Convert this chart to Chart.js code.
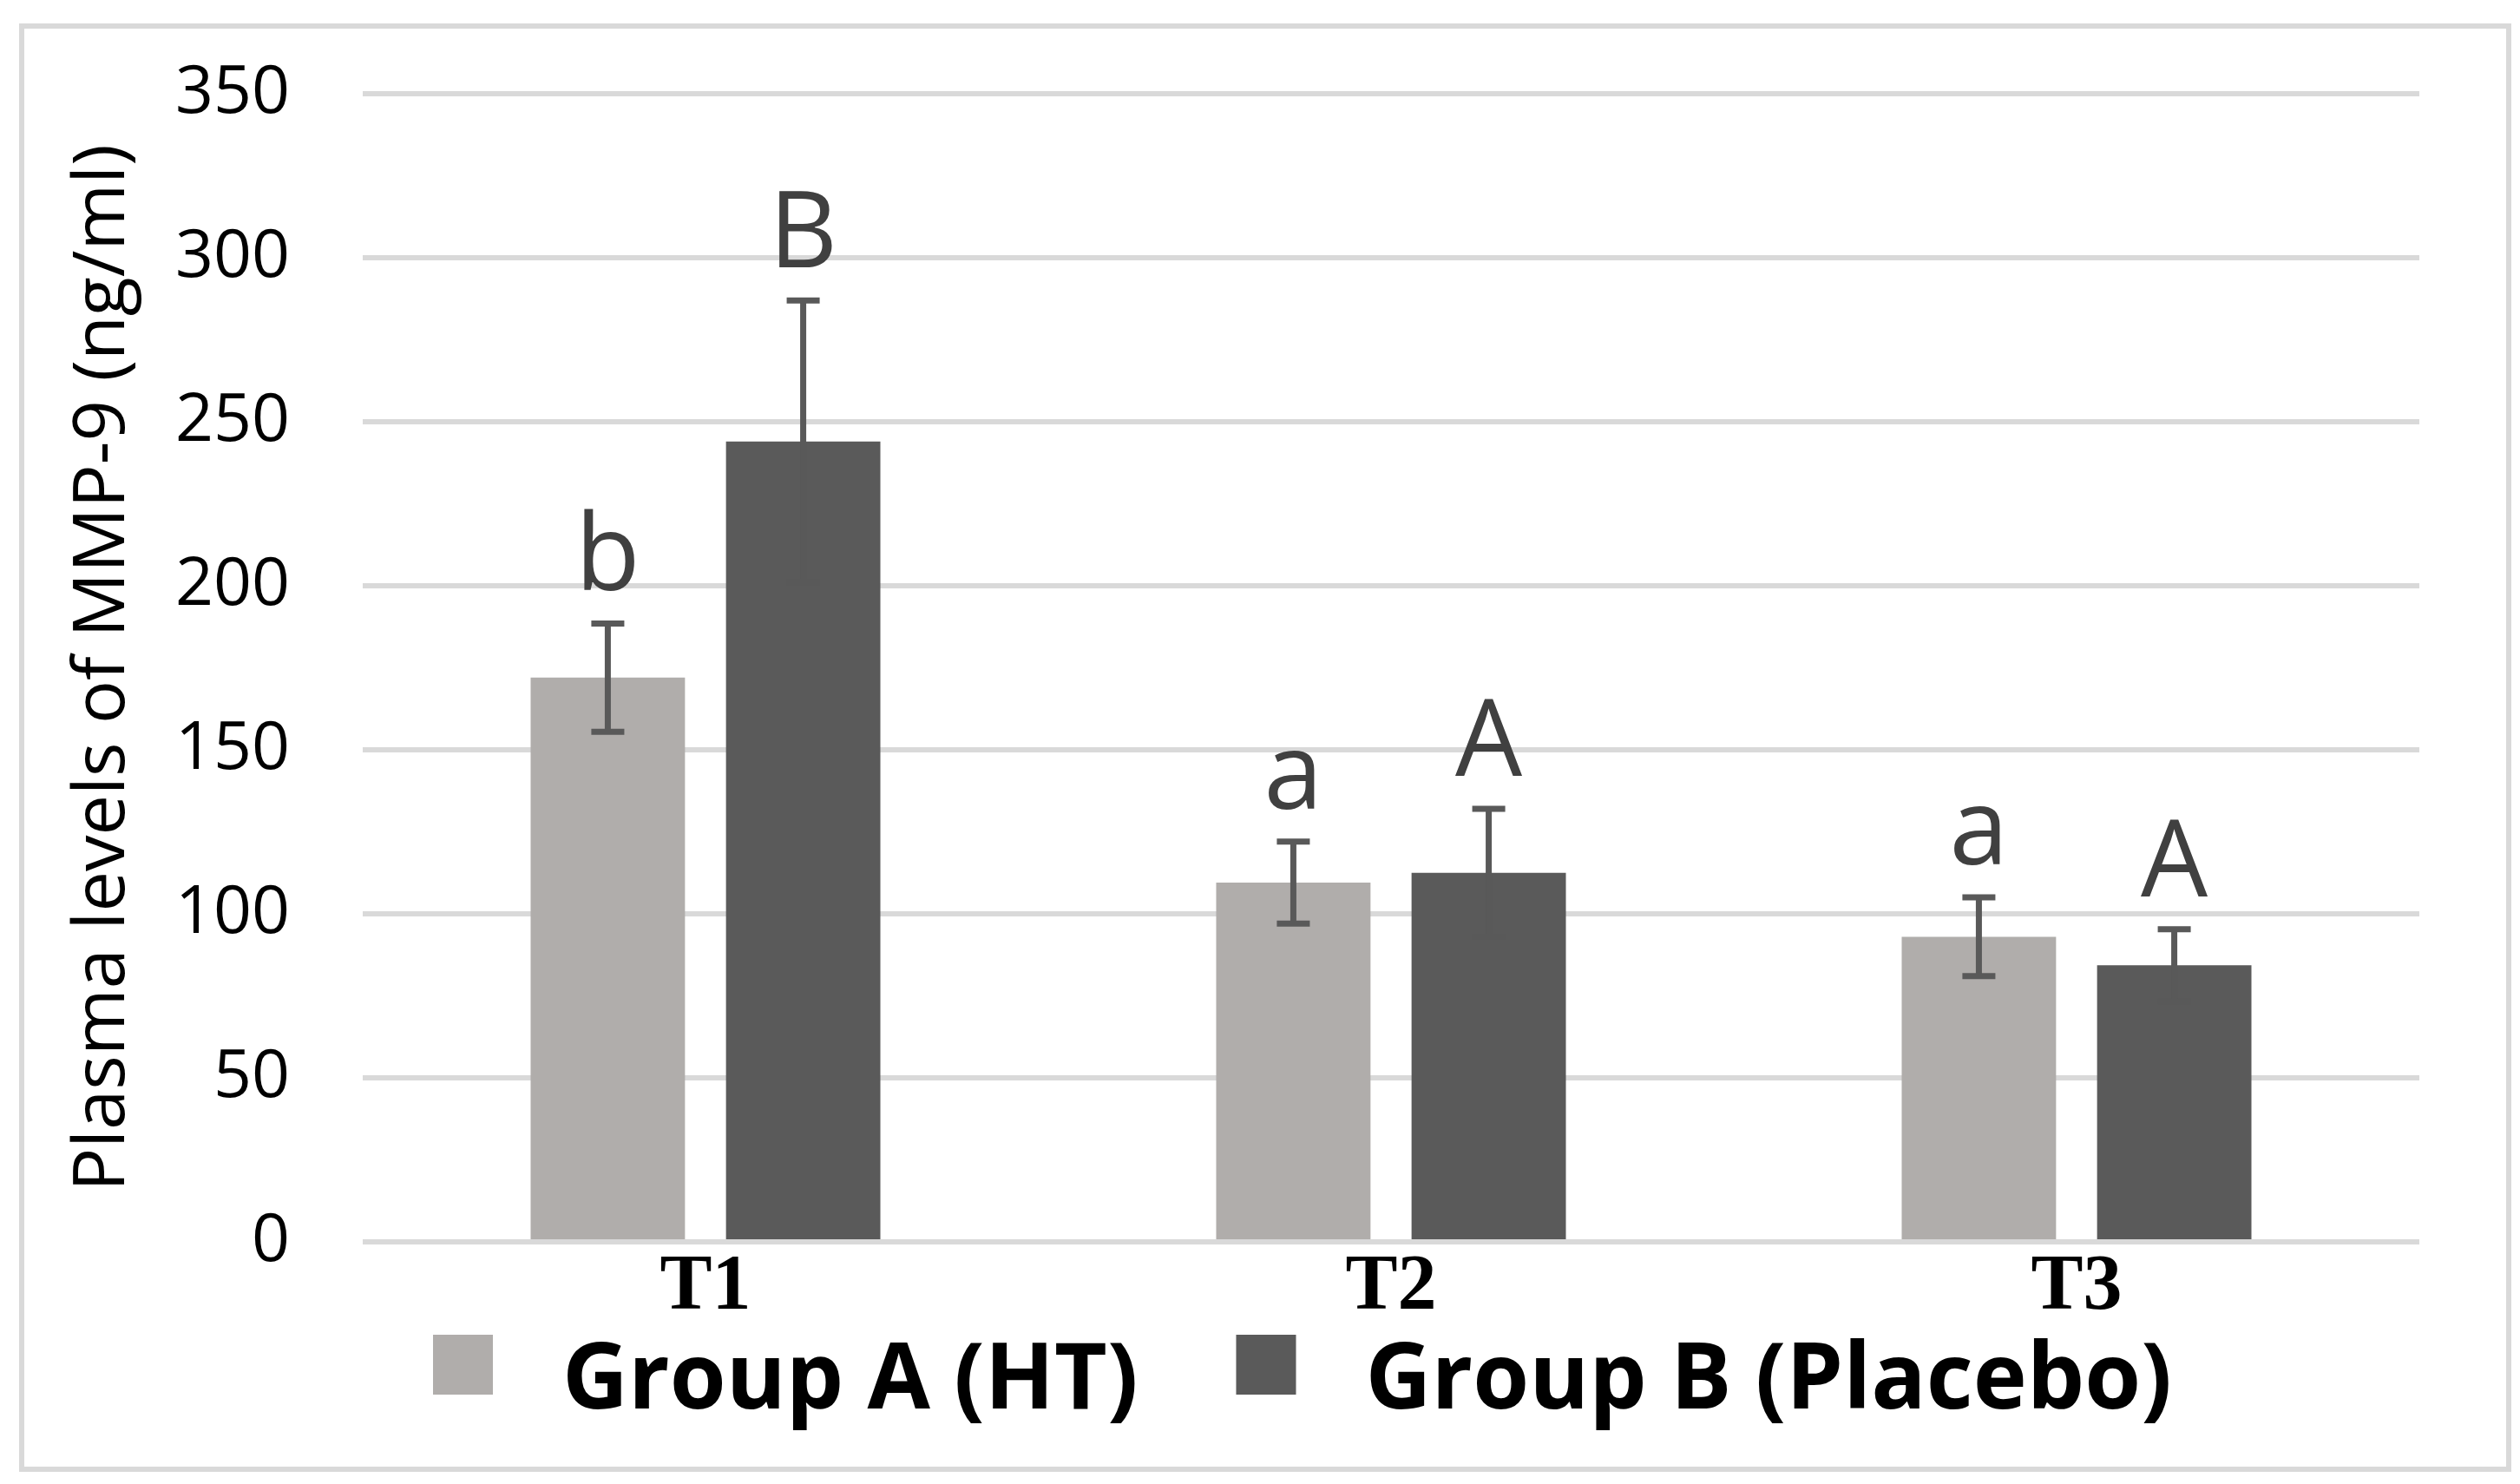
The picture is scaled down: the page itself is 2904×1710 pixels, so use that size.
<!DOCTYPE html>
<html>
<head>
<meta charset="utf-8">
<title>Plasma MMP-9</title>
<script src="https://cdn.jsdelivr.net/npm/chart.js@4.4.1/dist/chart.umd.min.js"></script>
<style>
  html, body { margin: 0; padding: 0; background: #fff; }
  #wrap { width: 2904px; height: 1710px; }
</style>
</head>
<body>
<div id="wrap"><canvas id="mmp-chart" width="2904" height="1710"></canvas></div>
<script>
// Chart data
const categories = ["T1", "T2", "T3"];
const seriesNames = ["Group A (HT)", "Group B (Placebo)"];
const groupA = [172, 109.5, 93];
const groupB = [244, 112.5, 84.3];
const errorA = [16.5, 12.5, 12];
const errorB = [43, 19.5, 11];
const lettersA = ["b", "a", "a"];
const lettersB = ["B", "A", "A"];
const yTicks = [0, 50, 100, 150, 200, 250, 300, 350];

const colorA = "#b0adab";
const colorB = "#5a5a5a";
const errors = [errorA, errorB];
const letters = [lettersA, lettersB];

// white page + light grey frame round the whole figure
const framePlugin = {
  id: "frame",
  beforeDraw(chart) {
    const ctx = chart.ctx;
    ctx.save();
    ctx.fillStyle = "#fff";
    ctx.fillRect(0, 0, chart.width, chart.height);
    ctx.strokeStyle = "#d9d9d9";
    ctx.lineWidth = 6;
    ctx.strokeRect(25, 30, 2866, 1663);
    ctx.restore();
  },
};

// error bars with caps, then the significance letters above them
const errorBarPlugin = {
  id: "errorBars",
  afterDatasetsDraw(chart) {
    const ctx = chart.ctx;
    const y = chart.scales.y;
    ctx.save();
    chart.data.datasets.forEach((ds, di) => {
      const meta = chart.getDatasetMeta(di);
      meta.data.forEach((bar, i) => {
        const v = ds.data[i];
        const e = errors[di][i];
        const top = y.getPixelForValue(v + e);
        const bottom = y.getPixelForValue(v - e);
        ctx.strokeStyle = "#595959";
        ctx.lineWidth = 7;
        ctx.beginPath();
        ctx.moveTo(bar.x, top);
        ctx.lineTo(bar.x, bottom);
        ctx.moveTo(bar.x - 19, top);
        ctx.lineTo(bar.x + 19, top);
        ctx.moveTo(bar.x - 19, bottom);
        ctx.lineTo(bar.x + 19, bottom);
        ctx.stroke();

        ctx.fillStyle = "#404040";
        ctx.font = "122px 'Open Sans'";
        ctx.textAlign = "center";
        ctx.textBaseline = "alphabetic";
        ctx.fillText(letters[di][i], bar.x, top - 38);
      });
    });
    ctx.restore();
  },
};

// legend drawn by hand so the box/text spacing matches the figure
const legendPlugin = {
  id: "bottomLegend",
  afterDraw(chart) {
    const ctx = chart.ctx;
    ctx.save();
    ctx.font = "bold 105px 'Open Sans'";
    ctx.textAlign = "left";
    ctx.textBaseline = "alphabetic";
    let x = 499;
    chart.data.datasets.forEach((ds) => {
      ctx.fillStyle = ds.backgroundColor;
      ctx.fillRect(x, 1538, 69, 69);
      ctx.fillStyle = "#000";
      ctx.fillText(ds.label, x + 149, 1623);
      x += 149 + ctx.measureText(ds.label).width + 113;
    });
    ctx.restore();
  },
};

const ctx = document.getElementById("mmp-chart").getContext("2d");

new Chart(ctx, {
  type: "bar",
  data: {
    labels: categories,
    datasets: [
      {
        label: seriesNames[0],
        data: groupA,
        backgroundColor: colorA,
        borderWidth: 0,
        barPercentage: 0.79,
        categoryPercentage: 0.57,
      },
      {
        label: seriesNames[1],
        data: groupB,
        backgroundColor: colorB,
        borderWidth: 0,
        barPercentage: 0.79,
        categoryPercentage: 0.57,
      },
    ],
  },
  options: {
    responsive: false,
    animation: false,
    devicePixelRatio: 1,
    layout: {
      padding: { left: 0, right: 116, top: 108, bottom: 0 },
    },
    plugins: {
      legend: { display: false },
      tooltip: { enabled: false },
    },
    scales: {
      x: {
        grid: { display: false, drawTicks: false },
        border: { display: false },
        ticks: {
          color: "#000",
          padding: 0,
          font: { family: "'Liberation Serif'", size: 90, weight: "bold" },
        },
        afterFit(scale) {
          scale.height = 279;
        },
      },
      y: {
        min: 0,
        max: 350,
        afterBuildTicks(scale) {
          scale.ticks = yTicks.map((v) => ({ value: v }));
        },
        grid: { color: "#d9d9d9", lineWidth: 6, drawTicks: false },
        border: { display: false },
        ticks: {
          color: "#000",
          padding: 84,
          font: { family: "'Open Sans'", size: 77 },
        },
        title: {
          display: true,
          text: "Plasma levels of MMP-9 (ng/ml)",
          color: "#000",
          font: { family: "'Open Sans'", size: 83 },
          padding: { top: 70, bottom: 0 },
        },
        afterFit(scale) {
          scale.width = 418;
          // tick padding would otherwise push the plot top down
          scale.paddingTop = 0;
          scale.paddingBottom = 0;
        },
      },
    },
  },
  plugins: [framePlugin, errorBarPlugin, legendPlugin],
});
</script>
</body>
</html>
